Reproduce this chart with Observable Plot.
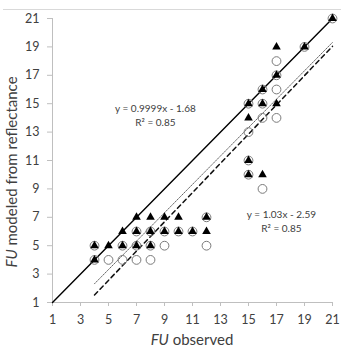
<!DOCTYPE html>
<html>
<head>
<meta charset="utf-8">
<script src="https://cdn.jsdelivr.net/npm/d3@7"></script>
<script src="https://cdn.jsdelivr.net/npm/@observablehq/plot@0.6"></script>
<style>
  html, body { margin: 0; padding: 0; background: #fff; }
  #wrap { position: relative; width: 341px; height: 349px; overflow: hidden; }
  #wrap .topline { position: absolute; left: 3px; right: 0; top: 9px; height: 1px; background: #d9d9d9; }
  #wrap svg { position: absolute; left: 0; top: 0; }
</style>
</head>
<body>
<div id="wrap"><div class="topline"></div></div>
<script>
// Forel-Ule index: observed vs. modeled from reflectance
const axisTicks = [1, 3, 5, 7, 9, 11, 13, 15, 17, 19, 21];

// Series drawn as filled triangles
const triObserved = [4, 4, 5, 6, 6, 7, 7, 7, 8, 8, 8, 9, 9, 10, 10, 11, 12, 12, 15, 15, 15, 15, 16, 16, 16, 17, 17, 17, 19, 21];
const triModeled  = [5, 4, 5, 6, 5, 7, 6, 5, 7, 6, 5, 7, 6, 7, 6, 6, 7, 6, 15, 14, 11, 10, 16, 15, 10, 19, 17, 15, 19, 21];

// Series drawn as open circles
const circObserved = [4, 4, 5, 6, 6, 7, 7, 7, 8, 8, 8, 9, 9, 10, 11, 12, 12, 15, 15, 15, 15, 16, 16, 16, 16, 17, 17, 17, 17, 19, 21];
const circModeled  = [5, 4, 4, 5, 4, 6, 5, 4, 6, 5, 4, 6, 5, 6, 6, 7, 5, 15, 13, 11, 10, 16, 15, 14, 9, 18, 17, 16, 14, 19, 21];

// Linear fits (slope, intercept) and the x-span they cover
const fitSlopes = [0.9999, 1.03];
const fitIntercepts = [-1.68, -2.59];
const fitR2 = [0.85, 0.85];
const fitRange = [4, 21];
const fitLabelX = [8.35, 17.35];
const fitLabelY = [14.65, 7.15];

// 1:1 reference line
const identityRange = [1, 21];

const triangles = triObserved.map((x, i) => ({x, y: triModeled[i]}));
const circles = circObserved.map((x, i) => ({x, y: circModeled[i]}));
const fitLine = (k) => fitRange.map(x => ({x, y: fitSlopes[k] * x + fitIntercepts[k]}));
const identity = identityRange.map(v => ({x: v, y: v}));
const fitLabels = fitSlopes.map((s, k) => ({
  x: fitLabelX[k], y: fitLabelY[k],
  eq: `y = ${s}x - ${Math.abs(fitIntercepts[k])}`,
  r2: `R² = ${fitR2[k].toFixed(2)}`
}));

const textColor = "#404040";
const axisColor = "#bfbfbf";

const chart = Plot.plot({
  width: 341,
  height: 349,
  marginLeft: 52,
  marginRight: 9,
  marginTop: 18,
  marginBottom: 47,
  style: {fontFamily: "Lato, 'Open Sans', sans-serif", background: "transparent", overflow: "visible"},
  x: {domain: [1, 21]},
  y: {domain: [1, 21]},
  marks: [
    Plot.ruleY([1], {stroke: axisColor}),
    Plot.ruleX([1], {stroke: axisColor}),
    Plot.axisX({ticks: axisTicks, tickSize: 4, tickPadding: 9, stroke: axisColor, fill: textColor, fontSize: 12.5, label: null}),
    Plot.axisY({ticks: axisTicks, tickSize: 5, tickPadding: 8, stroke: axisColor, fill: textColor, fontSize: 12.5, label: null}),
    Plot.line(identity, {x: "x", y: "y", stroke: "#000", strokeWidth: 1.4}),
    Plot.line(fitLine(0), {x: "x", y: "y", stroke: "#555", strokeWidth: 0.9, strokeDasharray: "1.2,1.3"}),
    Plot.line(fitLine(1), {x: "x", y: "y", stroke: "#111", strokeWidth: 1.5, strokeDasharray: "4.5,3.5"}),
    Plot.dot(circles, {x: "x", y: "y", r: 4.4, stroke: "#7a7a7a", strokeWidth: 1, fill: "none"}),
    Plot.dot(triangles, {x: "x", y: "y", symbol: "triangle", r: 3.2, fill: "#000", stroke: "none"}),
    Plot.text(fitLabels, {x: "x", y: "y", text: "eq", fill: textColor, fontSize: 10}),
    Plot.text(fitLabels, {x: "x", y: "y", text: "r2", fill: textColor, fontSize: 10, dy: 14})
  ]
});

// Axis titles with the italic "FU" abbreviation
const svg = d3.select(chart);
const xt = svg.append("text")
  .attr("x", 192).attr("y", 345)
  .attr("text-anchor", "middle")
  .attr("fill", textColor)
  .style("font-size", "15px");
xt.append("tspan").attr("font-style", "italic").text("FU");
xt.append("tspan").text(" observed");

const yt = svg.append("text")
  .attr("transform", "translate(17,172) rotate(-90)")
  .attr("text-anchor", "middle")
  .attr("fill", textColor)
  .style("font-size", "15px");
yt.append("tspan").attr("font-style", "italic").text("FU");
yt.append("tspan").text(" modeled from reflectance");

document.getElementById("wrap").appendChild(chart);
</script>
</body>
</html>
